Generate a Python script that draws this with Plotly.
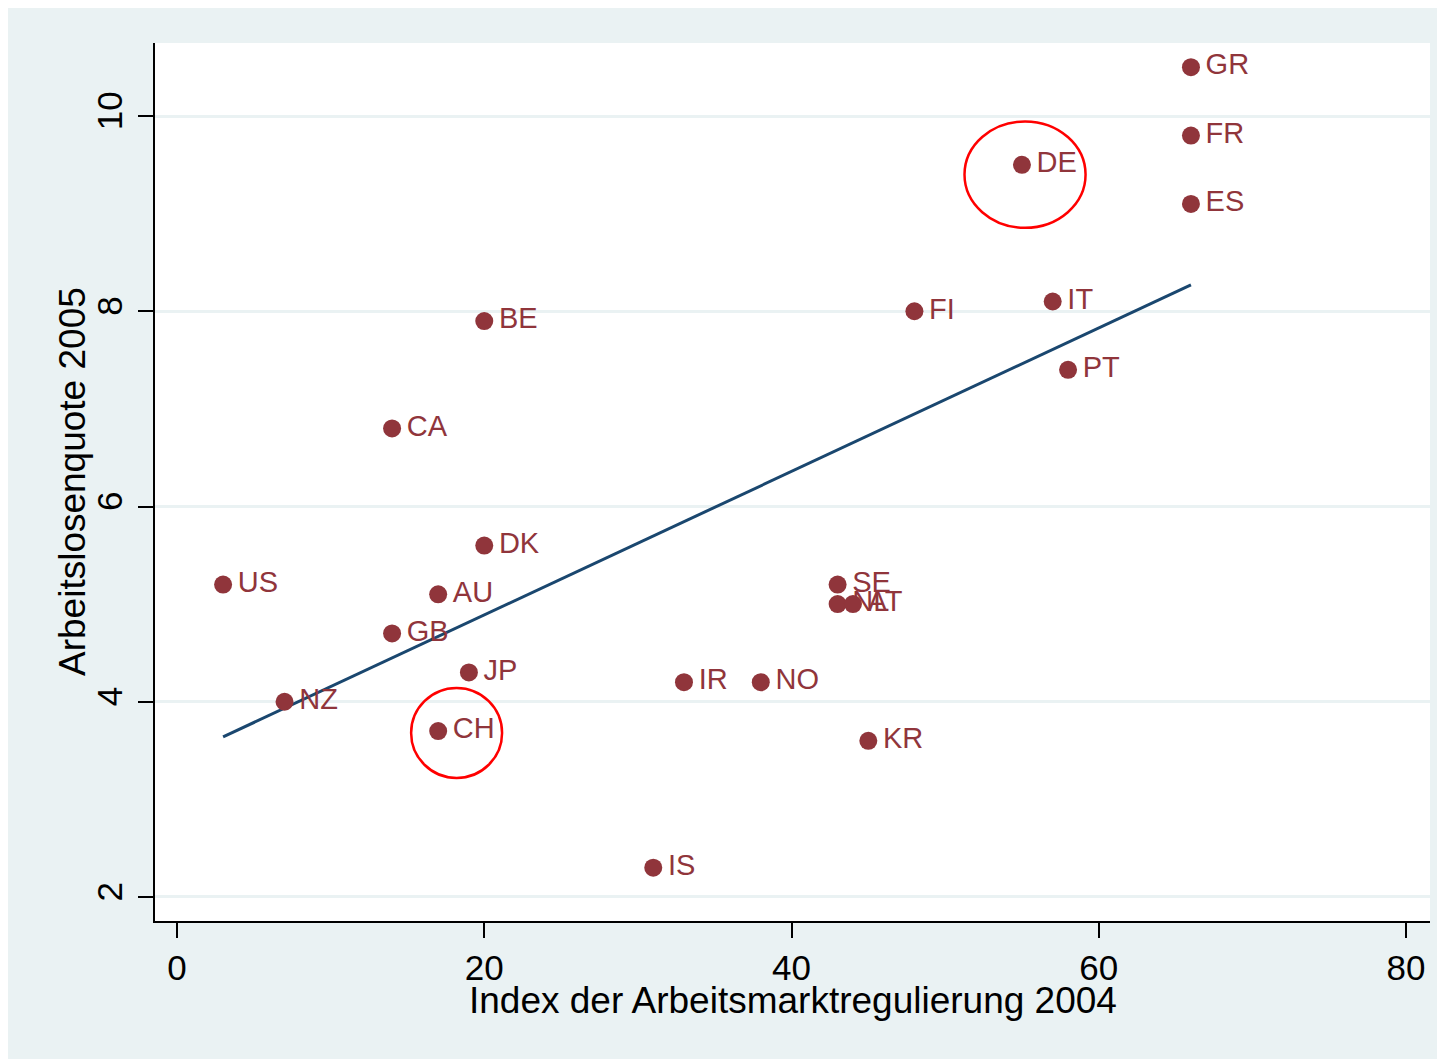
import plotly.graph_objects as go

# ── Data ──────────────────────────────────────────────────────────────────────
countries = ["US", "NZ", "GB", "CA", "AU", "CH", "JP", "BE", "DK", "IS", "IR", "NO",
             "SE", "NL", "AT", "KR", "FI", "DE", "IT", "PT", "GR", "FR", "ES"]
regulierung = [3, 7, 14, 14, 17, 17, 19, 20, 20, 31, 33, 38,
               43, 43, 44, 45, 48, 55, 57, 58, 66, 66, 66]
arbeitslos = [5.2, 4.0, 4.7, 6.8, 5.1, 3.7, 4.3, 7.9, 5.6, 2.3, 4.2, 4.2,
              5.2, 5.0, 5.0, 3.6, 8.0, 9.5, 8.1, 7.4, 10.5, 9.8, 9.1]

fit_x = [3, 66]
fit_y = [3.64, 8.27]

# highlighted countries: centre x, centre y, half-width x, half-height y
hl_cx = [55.2, 18.2]
hl_cy = [9.40, 3.68]
hl_rx = [3.94, 2.96]
hl_ry = [0.545, 0.46]

x_ticks = [0, 20, 40, 60, 80]
y_ticks = [2, 4, 6, 8, 10]

# ── Style ─────────────────────────────────────────────────────────────────────
MAROON = "#90353B"
NAVY = "#1A476F"
BG = "#EAF2F3"
FONT = "Liberation Sans, Arial, sans-serif"

# page body has an 8px margin, so the figure is 8px smaller than the window
W, H = 1437, 1051
ML, MR, MT, MB = 147, 15, 35, 138
PW, PH = W - ML - MR, H - MT - MB

fig = go.Figure()
fig.add_trace(go.Scatter(
    x=fit_x, y=fit_y, mode="lines",
    line=dict(color=NAVY, width=3),
    hoverinfo="skip", showlegend=False,
))
fig.add_trace(go.Scatter(
    x=regulierung, y=arbeitslos, mode="markers+text",
    text=["\u200a" + c for c in countries], textposition="middle right",
    textfont=dict(family=FONT, size=29, color=MAROON),
    marker=dict(color=MAROON, size=18, line=dict(width=0)),
    showlegend=False,
))

shapes = []
for cx, cy, rx, ry in zip(hl_cx, hl_cy, hl_rx, hl_ry):
    shapes.append(dict(
        type="circle", xref="x", yref="y",
        x0=cx - rx, x1=cx + rx, y0=cy - ry, y1=cy + ry,
        line=dict(color="#FF0000", width=2.5),
    ))

fig.update_layout(
    width=W, height=H,
    margin=dict(l=ML, r=MR, t=MT, b=MB),
    paper_bgcolor=BG, plot_bgcolor="white",
    font=dict(family=FONT, color="black"),
    shapes=shapes,
    xaxis=dict(
        range=[-1.432, 81.56], tickvals=x_ticks,
        showgrid=False, zeroline=False,
        showline=True, linecolor="black", linewidth=1.5,
        ticks="outside", ticklen=15, tickwidth=1.5, tickcolor="black",
        tickfont=dict(size=35), ticklabelstandoff=0,
    ),
    yaxis=dict(
        range=[1.754, 10.748], tickvals=y_ticks, tickangle=-90,
        showgrid=True, gridcolor=BG, gridwidth=3, zeroline=False,
        showline=True, linecolor="black", linewidth=1.5,
        ticks="outside", ticklen=15, tickwidth=1.5, tickcolor="black",
        tickfont=dict(size=35), ticklabelstandoff=2,
    ),
    annotations=[
        dict(text="Index der Arbeitsmarktregulierung 2004", xref="paper", yref="paper",
             x=0.5, y=-79 / PH, xanchor="center", yanchor="middle",
             showarrow=False, font=dict(size=37)),
        dict(text="Arbeitslosenquote 2005", xref="paper", yref="paper",
             x=-83 / PW, y=0.5, xanchor="center", yanchor="middle", textangle=-90,
             showarrow=False, font=dict(size=37)),
    ],
)

fig.write_html("out.html")
